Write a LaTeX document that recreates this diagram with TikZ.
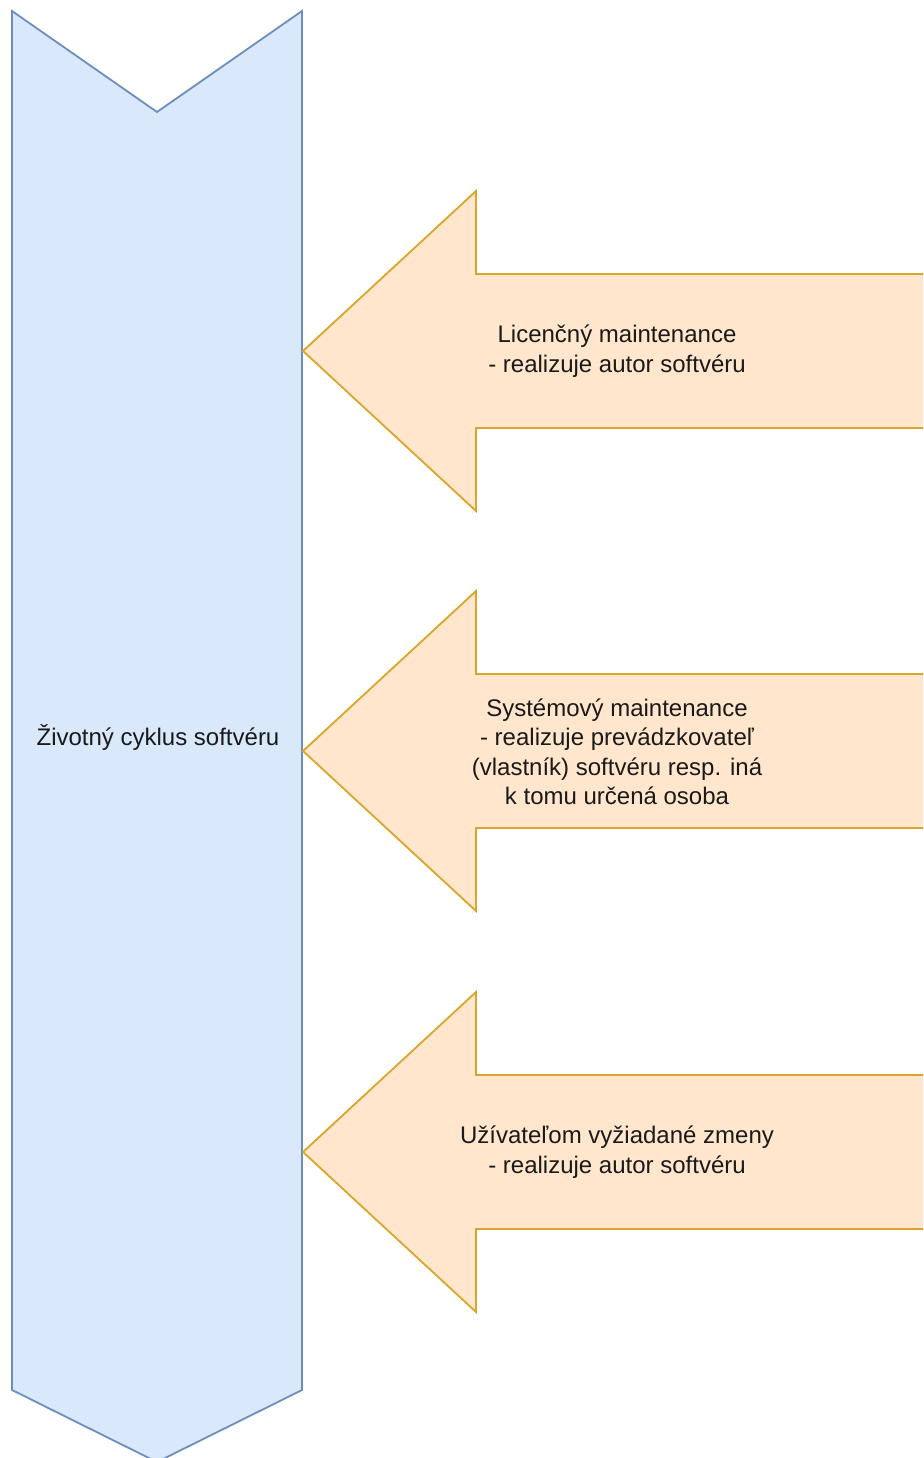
\documentclass[tikz,border=0pt]{standalone}
\usepackage{fontspec}
\setmainfont{Liberation Sans}
\definecolor{bluefill}{HTML}{DAE8FC}
\definecolor{bluedraw}{HTML}{6C8EBF}
\definecolor{orfill}{HTML}{FFE6CC}
\definecolor{ordraw}{HTML}{DAA52A}
\definecolor{txt}{HTML}{1A1A1A}
\tikzset{
  lifeshape/.style={fill=bluefill,draw=bluedraw,line width=1.8pt,line join=miter},
  maintarrow/.style={fill=orfill,draw=ordraw,line width=1.8pt,line join=miter},
  lbl/.style={align=center,text=txt,font=\fontsize{24}{29.5}\selectfont,inner sep=0pt}
}
\begin{document}
\begin{tikzpicture}[x=1pt,y=-1pt]
\useasboundingbox (0,0) rectangle (923,1458);
\clip (0,0) rectangle (923,1458);
% life cycle band
\draw[lifeshape] (12,11) -- (157,112) -- (302,11) -- (302,1390) -- (157,1462) -- (12,1390) -- cycle;
\node[lbl] (life) at (158,737) {Životný cyklus softvéru};
% arrows
\foreach \c in {351,751,1152}{
  \draw[maintarrow] (940,\c-77) -- (476,\c-77) -- (476,\c-160) -- (303,\c) -- (476,\c+160) -- (476,\c+77) -- (940,\c+77) -- cycle;
}
\node[lbl] (lic) at (617,351) {Licenčný maintenance\\- realizuje autor softvéru};
\node[lbl] (sys) at (617,752) {Systémový maintenance\\- realizuje prevádzkovateľ\\(vlastník) softvéru resp. iná\\k tomu určená osoba};
\node[lbl] (usr) at (617,1152) {Užívateľom vyžiadané zmeny\\- realizuje autor softvéru};
\end{tikzpicture}
\end{document}
